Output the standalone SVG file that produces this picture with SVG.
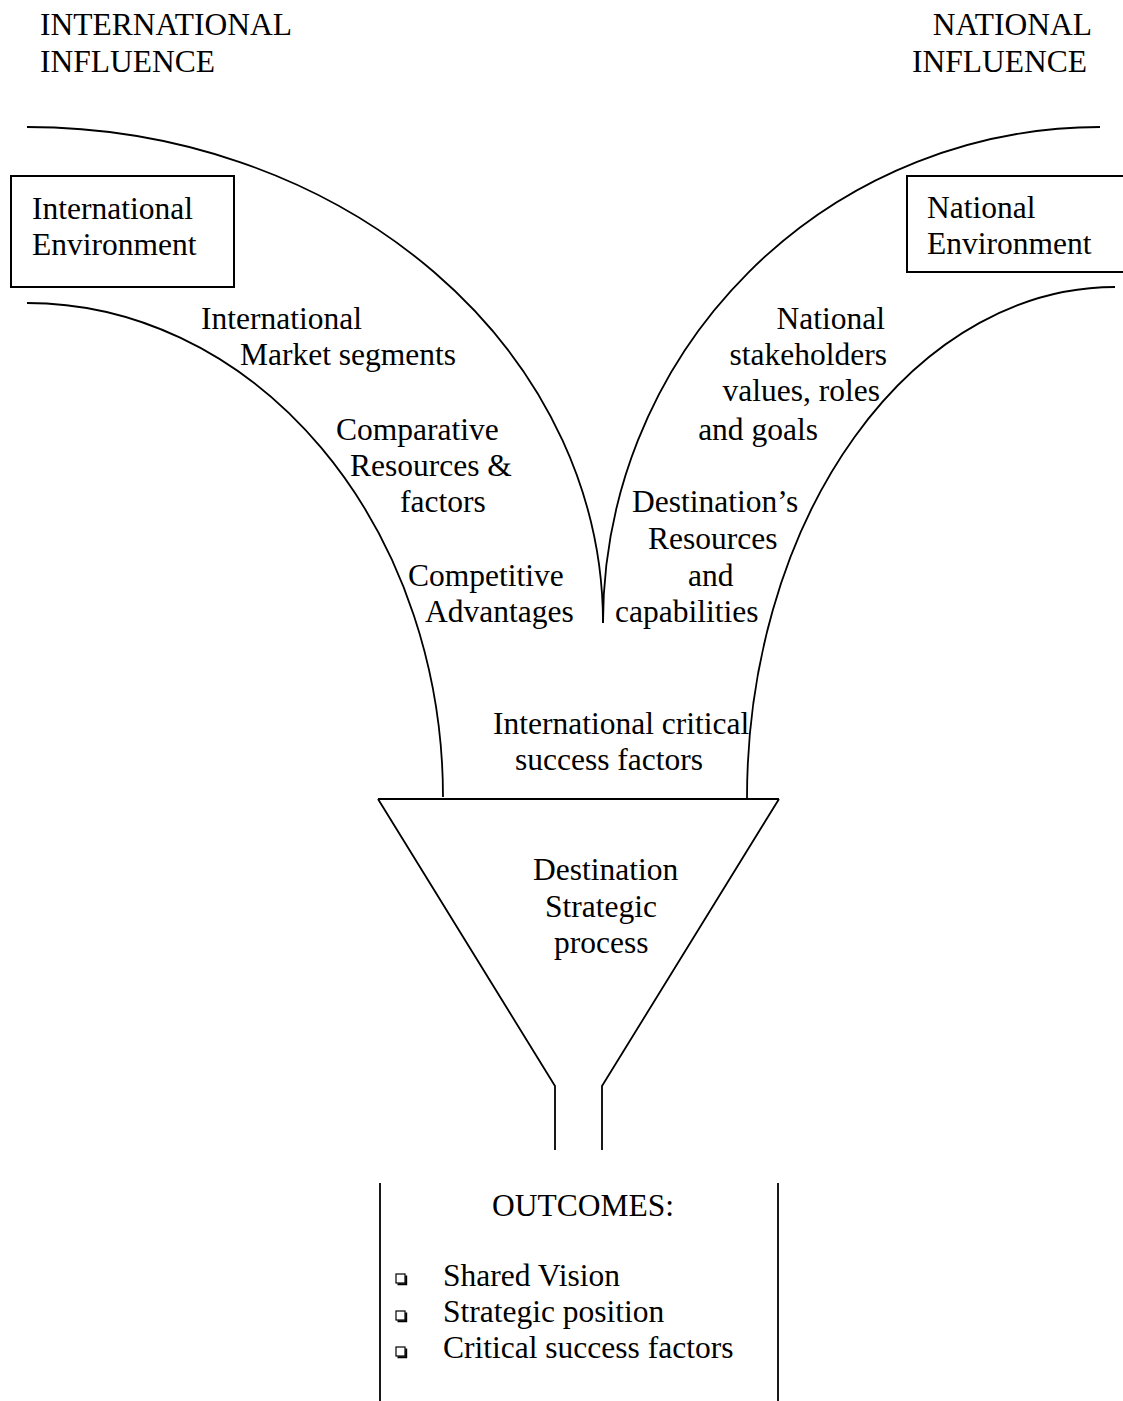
<svg xmlns="http://www.w3.org/2000/svg" width="1123" height="1401" viewBox="0 0 1123 1401">
  <style>
    text { font-family: "Liberation Serif", "Times New Roman", serif; font-size: 31.5px; fill: #000; }
    .ln { fill: none; stroke: #000; stroke-width: 1.8; }
    .box { fill: #fff; stroke: #000; stroke-width: 2; }
    .end { text-anchor: end; }
  </style>
  <defs>
    <!-- hollow square bullet with a drop shadow on the right and bottom -->
    <g id="bullet">
      <rect x="0" y="0" width="9" height="9" fill="#fff" stroke="#000" stroke-width="1.2"/>
      <path d="M1.5,10.2 H10.2 V1.5" fill="none" stroke="#000" stroke-width="2"/>
    </g>
  </defs>
  <rect width="1123" height="1401" fill="#fff"/>

  <!-- headings -->
  <g id="heading-international">
    <text x="40" y="35">INTERNATIONAL</text>
    <text x="40" y="72">INFLUENCE</text>
  </g>
  <g id="heading-national">
    <text x="1092" y="35" class="end">NATIONAL</text>
    <text x="1087" y="72" class="end">INFLUENCE</text>
  </g>

  <!-- channel walls -->
  <g id="connectors">
    <path class="ln" d="M27,127 A576,496 0 0 1 603,623"/>
    <path class="ln" d="M1100,127 A497,496 0 0 0 603,623"/>
    <path class="ln" d="M27,303 A416,494 0 0 1 443,797"/>
    <path class="ln" d="M1115,287 A368,511 0 0 0 747,798"/>
  </g>

  <g id="international-environment">
    <rect class="box" x="11" y="176" width="223" height="111"/>
    <text x="32" y="219">International</text>
    <text x="32" y="255">Environment</text>
  </g>
  <g id="national-environment">
    <rect class="box" x="907" y="176" width="220" height="96"/>
    <text x="927" y="218">National</text>
    <text x="927" y="254">Environment</text>
  </g>

  <g id="international-flow">
    <text x="201" y="329">International</text>
    <text x="240" y="365">Market segments</text>
    <text x="336" y="440">Comparative</text>
    <text x="350" y="476">Resources &amp;</text>
    <text x="400" y="512">factors</text>
    <text x="408" y="586">Competitive</text>
    <text x="425" y="622">Advantages</text>
  </g>

  <g id="national-flow">
    <text x="885" y="329" class="end">National</text>
    <text x="887" y="365" class="end">stakeholders</text>
    <text x="880" y="401" class="end">values, roles</text>
    <text x="818" y="440" class="end">and goals</text>
    <text x="632" y="512">Destination’s</text>
    <text x="648" y="549">Resources</text>
    <text x="688" y="586">and</text>
    <text x="615" y="622">capabilities</text>
  </g>

  <g id="critical-success-factors">
    <text x="493" y="734">International critical</text>
    <text x="515" y="770">success factors</text>
  </g>

  <!-- funnel with its neck -->
  <g id="strategic-process">
    <path class="ln" d="M378,799 H779 M378,799 L555,1086 V1150 M779,799 L602,1086 V1150"/>
    <text x="533" y="880">Destination</text>
    <text x="545" y="917">Strategic</text>
    <text x="554" y="953">process</text>
  </g>

  <g id="outcomes">
    <path class="ln" d="M380,1183 V1401 M778,1183 V1401"/>
    <text x="492" y="1216">OUTCOMES:</text>
    <use href="#bullet" x="396" y="1274"/>
    <use href="#bullet" x="396" y="1311"/>
    <use href="#bullet" x="396" y="1347"/>
    <text x="443" y="1286">Shared Vision</text>
    <text x="443" y="1322">Strategic position</text>
    <text x="443" y="1358">Critical success factors</text>
  </g>
</svg>
